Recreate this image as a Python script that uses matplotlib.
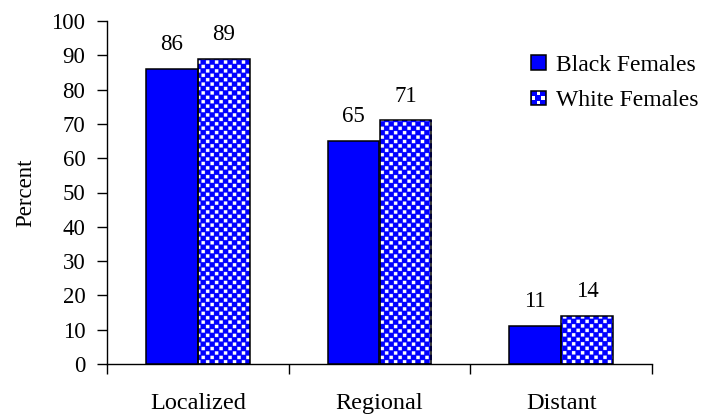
#!/usr/bin/env python3
import numpy as np
import matplotlib
matplotlib.use("Agg")
import matplotlib.pyplot as plt
from matplotlib.patches import Rectangle
from matplotlib.legend_handler import HandlerBase

stages = ["Localized", "Regional", "Distant"]
black_females = [86, 65, 11]
white_females = [89, 71, 14]
series_names = ["Black Females", "White Females"]

blue = "#0000FF"
plt.rcParams["font.family"] = ["Liberation Serif", "DejaVu Serif"]
plt.rcParams["font.size"] = 16


class CheckerHandler(HandlerBase):
    """Legend key drawn as a small blue/white checkerboard square."""

    def create_artists(self, legend, orig_handle, xdescent, ydescent,
                       width, height, fontsize, trans):
        side = min(width, height)
        x0 = -xdescent + (width - side)
        y0 = -ydescent + (height - side) / 2
        n = 3
        cell = side / n
        artists = [Rectangle((x0, y0), side, side, facecolor=blue,
                             edgecolor="none", transform=trans)]
        for i in range(n):
            for j in range(n):
                if (i + j) % 2 == 1:
                    artists.append(Rectangle((x0 + (i + 0.15) * cell, y0 + (j + 0.15) * cell),
                                             0.7 * cell, 0.7 * cell,
                                             facecolor="white", edgecolor="none",
                                             transform=trans))
        artists.append(Rectangle((x0, y0), side, side, facecolor="none",
                                 edgecolor="black", linewidth=1.1, transform=trans))
        return artists


class SolidHandler(HandlerBase):
    def create_artists(self, legend, orig_handle, xdescent, ydescent,
                       width, height, fontsize, trans):
        side = min(width, height)
        x0 = -xdescent + (width - side)
        y0 = -ydescent + (height - side) / 2
        return [Rectangle((x0, y0), side, side, facecolor=blue,
                          edgecolor="black", linewidth=1.1, transform=trans)]


fig = plt.figure(figsize=(7.2, 4.16), dpi=100)
ax = fig.add_axes([107 / 720, 1 - 364 / 416, (652 - 107) / 720, (364 - 21) / 416])

x = np.arange(len(stages)) + 0.5
width = 52 / 182

bars_b = ax.bar(x - width / 2, black_females, width, color=blue,
                edgecolor="black", linewidth=1.1, zorder=3)
bars_w = ax.bar(x + width / 2, white_females, width, color="none",
                edgecolor="black", linewidth=1.1, zorder=4)

ax.set_xlim(0, 3)
ax.set_ylim(0, 100)

# white dots on blue in a staggered grid, on a half-pixel raster
period = 18
tile = np.zeros((period, period))
tile[1:8, 1:8] = 1
tile[10:17, 10:17] = 1
checker = np.tile(tile, (343 * 2 // period + 1, 545 * 2 // period + 1))
cmap = matplotlib.colors.ListedColormap([blue, "white"])
for bar in bars_w:
    im = ax.imshow(checker, cmap=cmap, extent=(0, 3, 0, 100), aspect="auto",
                   interpolation="antialiased", origin="lower", zorder=2)
    im.set_clip_path(bar)

for bars, vals in ((bars_b, black_females), (bars_w, white_females)):
    for bar, v in zip(bars, vals):
        ax.annotate(str(v), (bar.get_x() + bar.get_width() / 2, v),
                    xytext=(0, 10), textcoords="offset points",
                    ha="center", va="bottom", fontsize=16.5)

ax.spines["top"].set_visible(False)
ax.spines["right"].set_visible(False)
for s in ("left", "bottom"):
    ax.spines[s].set_linewidth(1.0)

ax.set_yticks(range(0, 101, 10))
ax.tick_params(axis="y", direction="out", length=7.5, width=1.0, pad=8, labelsize=16.5)
ax.set_xticks([0, 1, 2, 3])
ax.set_xticklabels([])
ax.set_xticks(x, minor=True)
ax.set_xticklabels(stages, minor=True, fontsize=17.5)
ax.tick_params(axis="x", which="major", direction="out", length=7, width=1.0)
ax.tick_params(axis="x", which="minor", length=0, pad=21)
ax.set_ylabel("Percent", labelpad=11, fontsize=16.5)

h1 = Rectangle((0, 0), 1, 1)
h2 = Rectangle((0, 0), 1, 1)
ax.legend([h1, h2], series_names, handler_map={h1: SolidHandler(), h2: CheckerHandler()},
          loc="upper left", bbox_to_anchor=(531 / 720, 1 - 55 / 416),
          bbox_transform=fig.transFigure, frameon=False, fontsize=17,
          handlelength=0.62, handleheight=0.62, handletextpad=0.45,
          labelspacing=0.6, borderaxespad=0, borderpad=0)

fig.savefig("out.png", dpi=100)
